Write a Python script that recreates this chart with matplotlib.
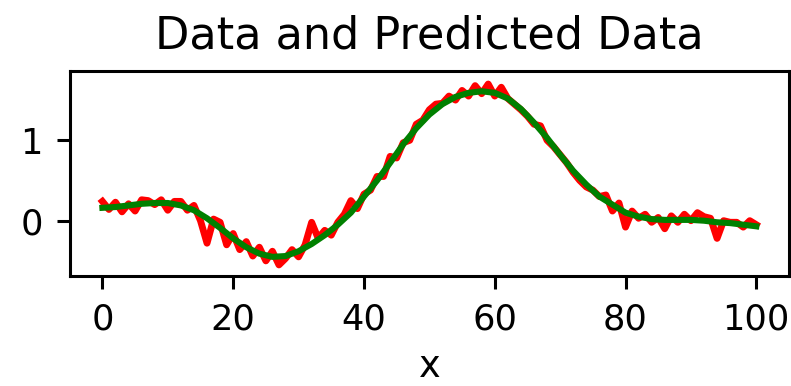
import numpy as np
import matplotlib
matplotlib.use("Agg")
import matplotlib.pyplot as plt

# x positions of noisy data (0..100)
data_x = list(range(0, 101))
data_y = [0.24, 0.14, 0.23, 0.11, 0.21, 0.12, 0.26, 0.25, 0.20, 0.26,
          0.13, 0.24, 0.24, 0.13, 0.19, 0.00, -0.28, 0.02, -0.02, -0.30,
          -0.16, -0.36, -0.26, -0.44, -0.33, -0.50, -0.38, -0.55, -0.47, -0.36,
          -0.45, -0.30, -0.02, -0.22, -0.12, -0.18, -0.02, 0.08, 0.25, 0.15,
          0.33, 0.38, 0.55, 0.55, 0.80, 0.78, 0.97, 1.00, 1.20, 1.25,
          1.38, 1.45, 1.46, 1.55, 1.50, 1.62, 1.55, 1.68, 1.58, 1.70,
          1.55, 1.66, 1.52, 1.45, 1.38, 1.30, 1.20, 1.18, 1.00, 0.92,
          0.82, 0.72, 0.60, 0.50, 0.42, 0.38, 0.30, 0.32, 0.12, 0.22,
          -0.08, 0.12, 0.03, 0.08, -0.02, 0.04, -0.10, 0.06, -0.02, 0.08,
          0.00, 0.10, 0.05, 0.03, -0.22, 0.00, -0.02, -0.02, -0.08, 0.00,
          -0.05]

pred_x = list(range(0, 101, 2))
pred_y = [0.16, 0.17, 0.19, 0.21, 0.22, 0.22, 0.19, 0.13, 0.03, -0.09,
          -0.22, -0.33, -0.41, -0.45, -0.44, -0.38, -0.29, -0.18, -0.05, 0.10,
          0.30, 0.50, 0.72, 0.95, 1.15, 1.32, 1.45, 1.54, 1.59, 1.61,
          1.59, 1.52, 1.39, 1.22, 1.03, 0.82, 0.62, 0.45, 0.30, 0.20,
          0.10, 0.05, 0.02, 0.01, 0.01, 0.01, 0.00, -0.02, -0.03, -0.05,
          -0.07]

xticks = [0, 20, 40, 60, 80, 100]
yticks = [0, 1]

DPI = 275
fig = plt.figure(figsize=(791 / DPI, 386 / DPI), dpi=DPI)
ax = fig.add_axes([69.7 / 791, 1 - 276 / 386, (789 - 69.7) / 791, (276 - 71) / 386])
ax.plot(data_x, data_y, color="red", lw=1.8)
ax.plot(pred_x, pred_y, color="green", lw=1.6)
ax.set_xlim(-5, 105)
ax.set_ylim(-0.688, 1.862)
ax.set_xticks(xticks)
ax.set_yticks(yticks)
ax.tick_params(labelsize=9.2)
ax.set_title("Data and Predicted Data", fontsize=11.7)
ax.set_xlabel("x", fontsize=9.6, labelpad=3)
fig.savefig("out.png", dpi=DPI)
